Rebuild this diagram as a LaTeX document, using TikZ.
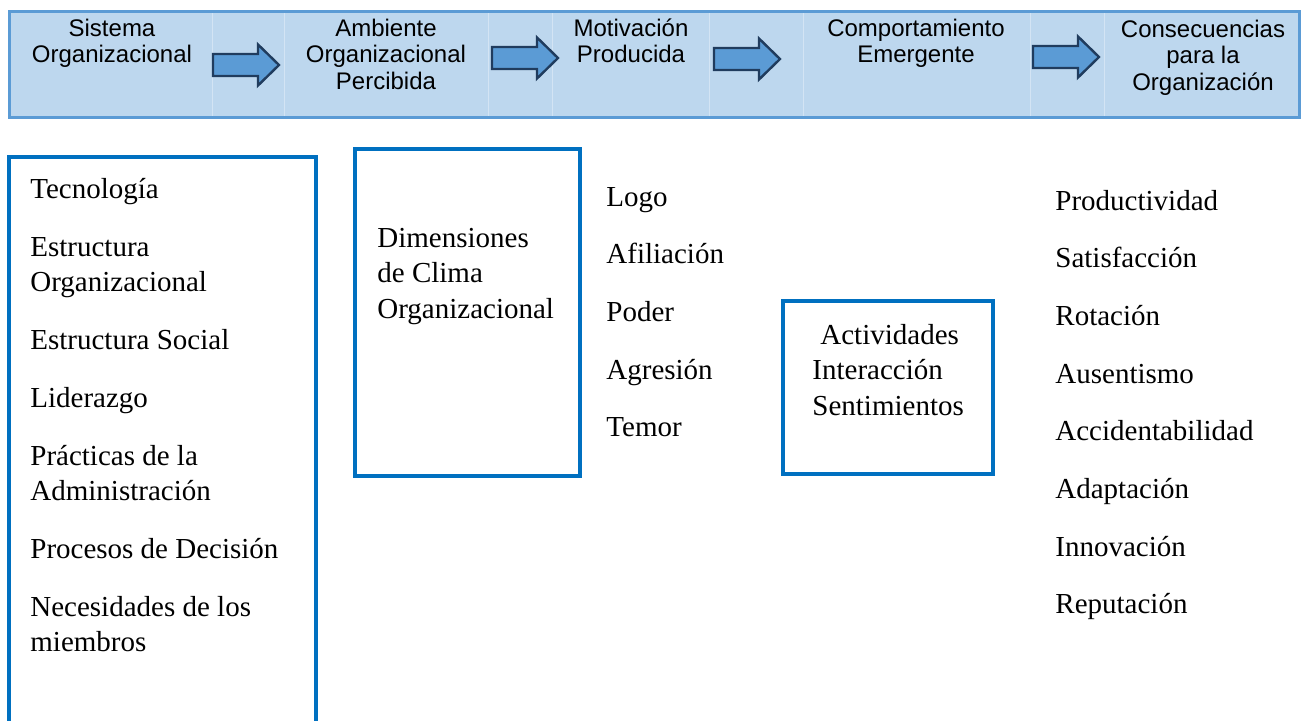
\documentclass[tikz,border=0pt]{standalone}
\usepackage{fontspec}
\setmainfont{Liberation Serif}
\newfontfamily\cabecera{Liberation Sans}
\definecolor{banda}{HTML}{BDD7EE}
\definecolor{bordebanda}{HTML}{5B9BD5}
\definecolor{flechaazul}{HTML}{5B9BD5}
\definecolor{flechaborde}{HTML}{203C5E}
\definecolor{cajaazul}{HTML}{0070C0}
\definecolor{separador}{HTML}{D3E4F4}

\begin{document}
\begin{tikzpicture}[x=0.5pt,y=-0.5pt,
  titulo/.style={font=\cabecera\fontsize{12}{13.35}\selectfont,
    align=center,anchor=base,inner sep=0pt},
  item/.style={font=\fontsize{14.5}{17.75}\selectfont,
    align=left,anchor=base west,inner sep=0pt},
  marco/.style={draw=cajaazul,line width=2pt},
  flecha/.style={fill=flechaazul,draw=flechaborde,line width=1.2pt}]
  \useasboundingbox (0,0) rectangle (1306,720);

  % banda de etapas (base = ultima linea)
  \fill[banda] (8,10) rectangle (1300,119);
  \foreach \x in {212,284,488,552,709,803,1030,1104}
    \draw[separador,line width=0.5pt] (\x,12) -- (\x,117);
  \draw[bordebanda,line width=1.5pt] (9.5,11.5) rectangle (1299,117.5);

  \node[titulo] (sistema) at (112,62.7) {Sistema\\Organizacional};
  \node[titulo] (ambiente) at (386,89.4) {Ambiente\\Organizacional\\Percibida};
  \node[titulo] (motivacion) at (631,62.7) {Motivación\\Producida};
  \node[titulo] (comportamiento) at (916,62.7) {Comportamiento\\Emergente};
  \node[titulo] (consecuencias) at (1203,90.4) {Consecuencias\\para la\\Organización};

  \foreach \x/\y in {213/65,492/58,714/59,1033/57}
    \draw[flecha] (\x,\y-11) -- ++(45,0) -- ++(0,-9.5) -- ++(21,20.5)
      -- ++(-21,20.5) -- ++(0,-9.5) -- ++(-45,0) -- cycle;

  % cajas
  \draw[marco] (9,157) rectangle (316,740);
  \draw[marco] (355,149) rectangle (580,476);
  \draw[marco] (783,301) rectangle (993,474);

  \foreach \y/\t [count=\i] in {198/Tecnología,291.5/{Estructura\\Organizacional},
      349/Estructura Social,407/Liderazgo,500.5/{Prácticas de la\\Administración},
      558/Procesos de Decisión,651.5/{Necesidades de los\\miembros}}
    \node[item] (factor\i) at (30,\y) {\t};

  \node[item] (dimensiones) at (377,318) {Dimensiones\\de Clima\\Organizacional};

  \foreach \y/\t [count=\i] in {206/Logo,263.7/Afiliación,321.4/Poder,
      379/Agresión,436.8/Temor}
    \node[item] (motivo\i) at (606,\y) {\t};

  \node[item] (conducta) at (812,415)
    {\hspace{4pt}Actividades\\Interacción\\Sentimientos};

  \foreach \y/\t [count=\i] in {210/Productividad,267.7/Satisfacción,
      325.4/Rotación,383.1/Ausentismo,440.8/Accidentabilidad,
      498.5/Adaptación,556.2/Innovación,613.9/Reputación}
    \node[item] (resultado\i) at (1055,\y) {\t};
\end{tikzpicture}
\end{document}
